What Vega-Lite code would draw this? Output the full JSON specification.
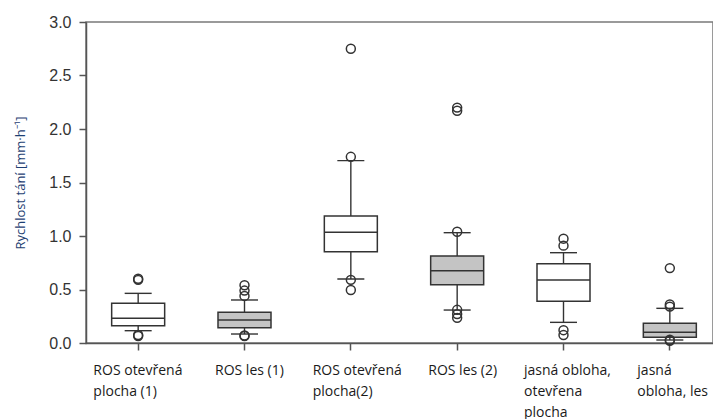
{
  "$schema": "https://vega.github.io/schema/vega-lite/v6.json",
  "autosize": "none",
  "width": 627,
  "height": 321,
  "padding": {"left": 86, "top": 22, "right": 0, "bottom": 76},
  "background": "white",
  "config": {
    "view": {"stroke": "#7a7a7a", "strokeWidth": 1.5},
    "axis": {"grid": false}
  },
  "datasets": {
    "boxes": [
      {"site": "ROS otevřená plocha (1)", "lo": 0.115, "q1": 0.162, "med": 0.231, "q3": 0.371, "hi": 0.464},
      {"site": "ROS les (1)", "lo": 0.084, "q1": 0.143, "med": 0.215, "q3": 0.287, "hi": 0.402},
      {"site": "ROS otevřená plocha(2)", "lo": 0.598, "q1": 0.853, "med": 1.034, "q3": 1.187, "hi": 1.704},
      {"site": "ROS les (2)", "lo": 0.308, "q1": 0.545, "med": 0.676, "q3": 0.813, "hi": 1.031},
      {"site": "jasná obloha, otevřena plocha", "lo": 0.193, "q1": 0.39, "med": 0.589, "q3": 0.741, "hi": 0.844},
      {"site": "jasná obloha, les", "lo": 0.028, "q1": 0.053, "med": 0.1, "q3": 0.184, "hi": 0.324}
    ],
    "outliers": [
      {"site": "ROS otevřená plocha (1)", "v": 0.6},
      {"site": "ROS otevřená plocha (1)", "v": 0.59},
      {"site": "ROS otevřená plocha (1)", "v": 0.075},
      {"site": "ROS otevřená plocha (1)", "v": 0.065},
      {"site": "ROS les (1)", "v": 0.54},
      {"site": "ROS les (1)", "v": 0.49},
      {"site": "ROS les (1)", "v": 0.44},
      {"site": "ROS les (1)", "v": 0.07},
      {"site": "ROS les (1)", "v": 0.065},
      {"site": "ROS otevřená plocha(2)", "v": 2.75},
      {"site": "ROS otevřená plocha(2)", "v": 1.74},
      {"site": "ROS otevřená plocha(2)", "v": 0.59},
      {"site": "ROS otevřená plocha(2)", "v": 0.495},
      {"site": "ROS les (2)", "v": 2.2},
      {"site": "ROS les (2)", "v": 2.17},
      {"site": "ROS les (2)", "v": 1.04},
      {"site": "ROS les (2)", "v": 0.31},
      {"site": "ROS les (2)", "v": 0.27},
      {"site": "ROS les (2)", "v": 0.235},
      {"site": "jasná obloha, otevřena plocha", "v": 0.975},
      {"site": "jasná obloha, otevřena plocha", "v": 0.91},
      {"site": "jasná obloha, otevřena plocha", "v": 0.12},
      {"site": "jasná obloha, otevřena plocha", "v": 0.075},
      {"site": "jasná obloha, les", "v": 0.7},
      {"site": "jasná obloha, les", "v": 0.36},
      {"site": "jasná obloha, les", "v": 0.34},
      {"site": "jasná obloha, les", "v": 0.03},
      {"site": "jasná obloha, les", "v": 0.02}
    ]
  },
  "encoding": {
    "x": {
      "field": "site",
      "type": "nominal",
      "scale": {
        "domain": ["ROS otevřená plocha (1)", "ROS les (1)", "ROS otevřená plocha(2)", "ROS les (2)", "jasná obloha, otevřena plocha", "jasná obloha, les"],
        "range": [-1, 637],
        "paddingInner": 0,
        "paddingOuter": 0
      },
      "axis": {
        "title": null,
        "labelAngle": 0,
        "labelAlign": "left",
        "labelBaseline": "top",
        "labelFont": "Open Sans",
        "labelFontSize": 14,
        "labelColor": "#1a1a1a",
        "labelLineHeight": 21,
        "labelPadding": 13,
        "labelOverlap": false,
        "labelBound": false,
        "labelFlush": false,
        "labelLimit": 300,
        "domainColor": "#555555",
        "domainWidth": 1.5,
        "tickColor": "#555555",
        "tickWidth": 1.5,
        "tickSize": 7,
        "labelExpr": "datum.value == 'ROS otevřená plocha (1)' ? ['ROS otevřená', 'plocha (1)'] : datum.value == 'ROS otevřená plocha(2)' ? ['ROS otevřená', 'plocha(2)'] : datum.value == 'jasná obloha, otevřena plocha' ? ['jasná obloha,', 'otevřena', 'plocha'] : datum.value == 'jasná obloha, les' ? ['jasná', 'obloha, les'] : datum.label",
        "labelOffset": {
          "condition": [
            {"test": "datum.value == 'ROS otevřená plocha (1)'", "value": -44.8},
            {"test": "datum.value == 'ROS les (1)'", "value": -29.5},
            {"test": "datum.value == 'ROS otevřená plocha(2)'", "value": -38.1},
            {"test": "datum.value == 'ROS les (2)'", "value": -28.9},
            {"test": "datum.value == 'jasná obloha, otevřena plocha'", "value": -39.5}
          ],
          "value": -32.5
        }
      }
    }
  },
  "layer": [
    {
      "data": {"name": "boxes"},
      "mark": {"type": "rule", "stroke": "#333333", "strokeWidth": 1.4},
      "encoding": {
        "y": {
          "field": "lo",
          "type": "quantitative",
          "scale": {"domain": [0, 3], "nice": false, "zero": false},
          "axis": {
            "values": [0, 0.5, 1, 1.5, 2, 2.5, 3],
            "format": ".1f",
            "labelFont": "Liberation Sans",
            "labelFontSize": 16,
            "labelColor": "#333333",
            "labelPadding": 8,
            "tickSize": 7,
            "tickColor": "#555555",
            "tickWidth": 1.5,
            "domainColor": "#555555",
            "domainWidth": 1.5,
            "title": "Rychlost tání [mm·h⁻¹]",
            "titleFont": "Open Sans",
            "titleFontSize": 13,
            "titleFontWeight": "normal",
            "titleColor": "#1f3f73",
            "titleX": -66,
            "titleBaseline": "middle"
          }
        },
        "y2": {"field": "hi"}
      }
    },
    {
      "data": {"name": "boxes"},
      "mark": {"type": "tick", "size": 27, "thickness": 1.4, "color": "#333333", "opacity": 1},
      "encoding": {"y": {"field": "lo", "type": "quantitative"}}
    },
    {
      "data": {"name": "boxes"},
      "mark": {"type": "tick", "size": 27, "thickness": 1.4, "color": "#333333", "opacity": 1},
      "encoding": {"y": {"field": "hi", "type": "quantitative"}}
    },
    {
      "data": {"name": "boxes"},
      "mark": {"type": "bar", "size": 53, "stroke": "#333333", "strokeWidth": 1.5, "opacity": 1},
      "encoding": {
        "y": {"field": "q1", "type": "quantitative"},
        "y2": {"field": "q3"},
        "fill": {
          "field": "site",
          "type": "nominal",
          "legend": null,
          "scale": {
            "domain": ["ROS otevřená plocha (1)", "ROS les (1)", "ROS otevřená plocha(2)", "ROS les (2)", "jasná obloha, otevřena plocha", "jasná obloha, les"],
            "range": ["#ffffff", "#c4c4c4", "#ffffff", "#c4c4c4", "#ffffff", "#c4c4c4"]
          }
        }
      }
    },
    {
      "data": {"name": "boxes"},
      "mark": {"type": "tick", "size": 53, "thickness": 1.5, "color": "#333333", "opacity": 1},
      "encoding": {"y": {"field": "med", "type": "quantitative"}}
    },
    {
      "data": {"name": "outliers"},
      "mark": {"type": "point", "shape": "circle", "filled": false, "size": 80, "stroke": "#333333", "strokeWidth": 1.5, "opacity": 1},
      "encoding": {"y": {"field": "v", "type": "quantitative"}}
    }
  ]
}
